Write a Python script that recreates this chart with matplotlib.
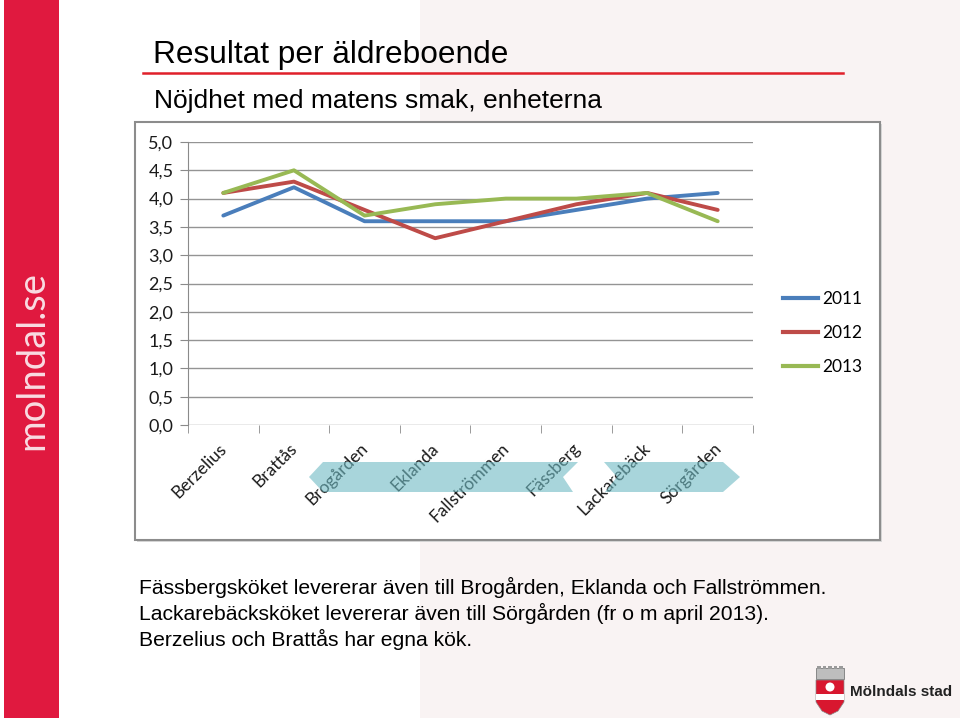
import matplotlib
matplotlib.use("Agg")
import matplotlib.pyplot as plt
import matplotlib.transforms as mtransforms
from matplotlib.patches import Rectangle, Polygon, Circle
from matplotlib.lines import Line2D

# Data
enheter = ["Berzelius", "Brattås", "Brogården", "Eklanda", "Fallströmmen",
           "Fässberg", "Lackarebäck", "Sörgården"]
ar_2011 = [3.7, 4.2, 3.6, 3.6, 3.6, 3.8, 4.0, 4.1]
ar_2012 = [4.1, 4.3, 3.8, 3.3, 3.6, 3.9, 4.1, 3.8]
ar_2013 = [4.1, 4.5, 3.7, 3.9, 4.0, 4.0, 4.1, 3.6]
serier = ["2011", "2012", "2013"]
farger = ["#4A7EBB", "#BE4B48", "#98B954"]
y_ticks = [0.0, 0.5, 1.0, 1.5, 2.0, 2.5, 3.0, 3.5, 4.0, 4.5, 5.0]

W, H = 960, 718
fig = plt.figure(figsize=(W / 100, H / 100), dpi=100)
fig.patch.set_facecolor("white")

# bakgrund i pixelkoordinater
bg = fig.add_axes([0, 0, 1, 1], zorder=0)
bg.set_xlim(0, W)
bg.set_ylim(H, 0)
bg.axis("off")

bg.add_patch(Rectangle((420, 0), 540, H, facecolor="#f9f3f3", edgecolor="none"))
bg.add_patch(Rectangle((4, 0), 55, H, facecolor="#E0193F", edgecolor="none"))
bg.text(32, 360, "molndal.se", rotation=90, ha="center", va="center",
        color="#F9DCE2", fontsize=27.5, family="Lato")

bg.text(153, 63, "Resultat per äldreboende", fontsize=22.8, family="Liberation Sans",
        color="black", va="baseline")
bg.plot([143, 843], [73, 73], color="#E0202A", lw=1.8)
bg.text(154, 108, "Nöjdhet med matens smak, enheterna", fontsize=19,
        family="Liberation Sans", color="black", va="baseline")

# diagramram
bg.add_patch(Rectangle((137, 124), 745, 418, facecolor="#d8d8d8", edgecolor="none"))
bg.add_patch(Rectangle((135, 122), 745, 418, facecolor="white", edgecolor="#8c8c8c", lw=1.5))

rader = ["Fässbergsköket levererar även till Brogården, Eklanda och Fallströmmen.",
         "Lackarebäcksköket levererar även till Sörgården (fr o m april 2013).",
         "Berzelius och Brattås har egna kök."]
for i, r in enumerate(rader):
    bg.text(139, 594 + 26 * i, r, fontsize=15.2, family="Liberation Sans",
            color="black", va="baseline")

# logga
bg.add_patch(Rectangle((816, 668), 28, 11, facecolor="#bdbdbd", edgecolor="#7a7a7a", lw=0.6))
for k in range(5):
    bg.add_patch(Rectangle((817 + k * 5.6, 666), 3.5, 3, facecolor="#9a9a9a", edgecolor="none"))
skold = Polygon([(816, 680), (844, 680), (844, 702), (838, 711), (830, 715),
                 (822, 711), (816, 702)], closed=True, facecolor="#D8172F", edgecolor="#888", lw=0.5)
bg.add_patch(skold)
bg.add_patch(Rectangle((816, 694), 28, 6, facecolor="white", edgecolor="none"))
bg.add_patch(Circle((830, 687), 4.5, facecolor="white", edgecolor="none"))
bg.text(850, 692, "Mölndals stad", fontsize=11, fontweight="bold",
        family="Liberation Sans", color="#222222", va="center")

# diagram
L, R, T, B = 188, 753, 142, 425
ax = fig.add_axes([L / W, 1 - B / H, (R - L) / W, (B - T) / H], zorder=1)
ax.patch.set_alpha(0)
x = [i + 0.5 for i in range(len(enheter))]
for vals, namn, f in zip([ar_2011, ar_2012, ar_2013], serier, farger):
    ax.plot(x, vals, color=f, lw=2.8, label=namn, solid_capstyle="round")

ax.set_xlim(0, len(enheter))
ax.set_ylim(0, 5)
ax.set_yticks(y_ticks)
ax.set_yticklabels([f"{v:.1f}".replace(".", ",") for v in y_ticks],
                   fontsize=13, family="Lato", color="#1a1a1a")
ax.yaxis.grid(True, color="#949494", lw=1)
ax.set_axisbelow(True)
for s in ["top", "right", "bottom"]:
    ax.spines[s].set_visible(False)
ax.spines["left"].set_color("#8a8a8a")
ax.tick_params(axis="y", length=6, color="#8a8a8a", pad=4.5)

ax.set_xticks(x)
ax.set_xticklabels(enheter, rotation=45, ha="right", va="center",
                   rotation_mode="anchor", fontsize=12.5, family="Lato", color="#1a1a1a")
ax.set_xticks(range(len(enheter) + 1), minor=True)
ax.tick_params(axis="x", which="major", length=0, pad=15)
ax.tick_params(axis="x", which="minor", length=6, color="#8a8a8a")
off = mtransforms.ScaledTranslation(1 / 100, 0, fig.dpi_scale_trans)
for lab in ax.get_xticklabels():
    lab.set_transform(lab.get_transform() + off)

handtag = [Line2D([0], [0], color=f, lw=3) for f in farger]
fig.legend(handtag, serier, loc="upper left", bbox_to_anchor=(767 / W, 1 - 275 / H),
           frameon=False, prop={"family": "Lato", "size": 12.5},
           handlelength=2.05, handletextpad=0.25, labelspacing=1.05)

# pilar ovanpå etiketterna
top = fig.add_axes([0, 0, 1, 1], zorder=2)
top.set_xlim(0, W)
top.set_ylim(H, 0)
top.axis("off")
pil_farg = "#6FBAC3"
top.add_patch(Polygon([(309, 477), (323, 462), (578, 462), (563, 477), (573, 492), (323, 492)],
                      closed=True, facecolor=pil_farg, edgecolor="none", alpha=0.6))
top.add_patch(Polygon([(604, 462), (723, 462), (740, 477), (723, 492), (605, 492), (617, 477)],
                      closed=True, facecolor=pil_farg, edgecolor="none", alpha=0.6))

fig.savefig("out.png", dpi=100)
